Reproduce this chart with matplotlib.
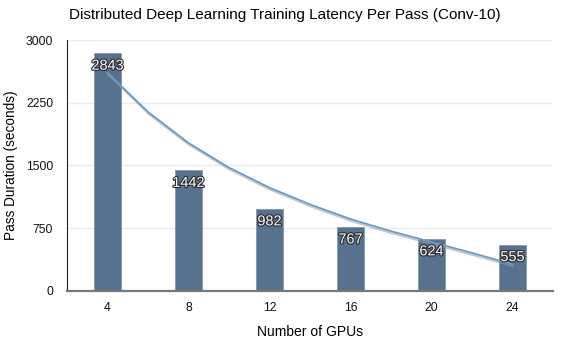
import numpy as np
import matplotlib.pyplot as plt
import matplotlib.patheffects as pe

plt.rcParams['font.family'] = ['Liberation Sans', 'DejaVu Sans']

gpus = ['4', '8', '12', '16', '20', '24']
latency = [2843, 1442, 982, 767, 624, 555]

# trend line (position in category units, seconds)
trend_pos = [0, 0.5, 1, 1.5, 2, 2.5, 3, 3.5, 4, 4.5, 5]
trend_val = [2610, 2140, 1770, 1475, 1235, 1035, 860, 715, 585, 455, 320]

fig = plt.figure(figsize=(5.7, 3.39), dpi=100)
ax = fig.add_axes([0.1175, 0.1416, 0.8525, 0.7404])

x = np.arange(len(gpus))
ax.bar(x, latency, width=0.33, color='#56728f', edgecolor='#7f98b0', linewidth=0.6, zorder=2)

ax.plot(trend_pos, trend_val, color='#6a9ac6', linewidth=1.3, zorder=3,
        solid_joinstyle='round',
        path_effects=[pe.SimpleLineShadow(offset=(0.5, -1.5), shadow_color='#999999', alpha=0.55),
                      pe.Normal()])

for xi, v in zip(x, latency):
    ax.text(xi, v - 150, str(v), ha='center', va='center', color='white', fontsize=10.4, zorder=4,
            path_effects=[pe.withStroke(linewidth=1.6, foreground='#2a2a2a')])

ax.set_xlim(-0.5, 5.5)
ax.set_ylim(0, 3000)
ax.set_yticks([0, 750, 1500, 2250, 3000])
ax.set_xticks(x)
ax.set_xticklabels(gpus)
ax.tick_params(axis='both', length=0, labelsize=8.8, colors='#111111')
ax.tick_params(axis='y', pad=10)
ax.tick_params(axis='x', pad=8)
ax.grid(axis='y', color='#ececec', linewidth=1, zorder=0)
ax.set_axisbelow(True)

for s in ['top', 'right']:
    ax.spines[s].set_visible(False)
ax.spines['left'].set_color('#222222')
ax.spines['left'].set_linewidth(0.8)
ax.spines['bottom'].set_color('#777777')
ax.spines['bottom'].set_linewidth(1.6)

ax.set_xlabel('Number of GPUs', fontsize=10, labelpad=8)
ax.set_ylabel('Pass Duration (seconds)', fontsize=9.8)
ax.yaxis.set_label_coords(-0.10, 0.5)
fig.suptitle('Distributed Deep Learning Training Latency Per Pass (Conv-10)', fontsize=11,
             x=0.499, y=0.956, va='center')

fig.savefig('out.png', dpi=100)
